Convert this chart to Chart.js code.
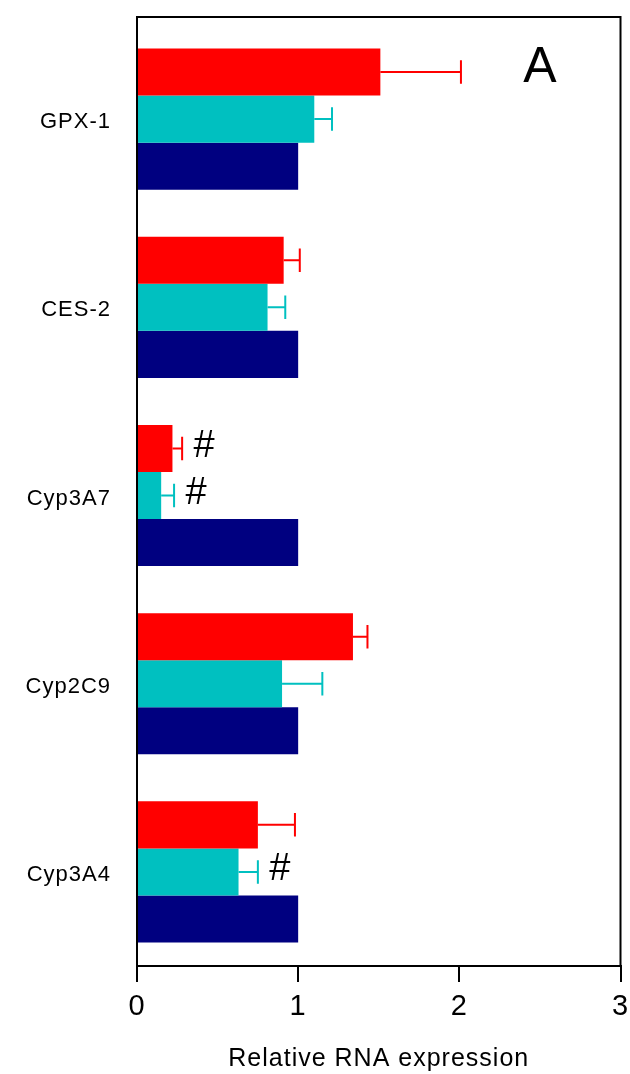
<!DOCTYPE html>
<html>
<head>
<meta charset="utf-8">
<script src="https://cdn.jsdelivr.net/npm/chart.js@4/dist/chart.umd.min.js"></script>
<style>
  body { margin: 0; background: #fff; }
  #wrap { width: 630px; height: 1074px; }
</style>
</head>
<body>
<div id="wrap"><canvas id="rnaChart" width="630" height="1074"></canvas></div>
<script>
// genes, top to bottom
const genes = ['GPX-1', 'CES-2', 'Cyp3A7', 'Cyp2C9', 'Cyp3A4'];

// red series
const redValues = [1.51, 0.91, 0.22, 1.34, 0.75];
const redErrors = [0.50, 0.10, 0.06, 0.09, 0.23];

// cyan series
const cyanValues = [1.10, 0.81, 0.15, 0.90, 0.63];
const cyanErrors = [0.11, 0.11, 0.08, 0.25, 0.12];

// navy (control) series
const navyValues = [1.0, 1.0, 1.0, 1.0, 1.0];
const navyErrors = [0, 0, 0, 0, 0];

const xTicks = [0, 1, 2, 3];

// significance marks: gene, series index, text
const marks = [
    { gene: 'Cyp3A7', series: 0, text: '#' },
    { gene: 'Cyp3A7', series: 1, text: '#' },
    { gene: 'Cyp3A4', series: 1, text: '#' }
];
const panelLabel = 'A';

const fontName = "'Liberation Sans', Arial, sans-serif";

// error bars, frame and text marks
const extrasPlugin = {
    id: 'extras',
    beforeDraw(chart) {
        // labels in the original are slightly spaced out
        chart.ctx.letterSpacing = '1px';
    },
    afterDatasetsDraw(chart) {
        const ctx = chart.ctx;
        const xs = chart.scales.x;
        const area = chart.chartArea;
        ctx.save();

        chart.data.datasets.forEach((ds, di) => {
            const meta = chart.getDatasetMeta(di);
            meta.data.forEach((bar, i) => {
                const err = ds.errors[i];
                if (!err) return;
                const x0 = xs.getPixelForValue(ds.data[i]);
                const x1 = xs.getPixelForValue(ds.data[i] + err);
                const half = bar.height / 4;
                ctx.strokeStyle = ds.backgroundColor;
                ctx.lineWidth = 2;
                ctx.beginPath();
                ctx.moveTo(x0, bar.y);
                ctx.lineTo(x1, bar.y);
                ctx.moveTo(x1, bar.y - half);
                ctx.lineTo(x1, bar.y + half);
                ctx.stroke();
            });
        });

        // # marks
        ctx.letterSpacing = '0px';
        ctx.fillStyle = '#000';
        ctx.font = '38px ' + fontName;
        ctx.textAlign = 'center';
        ctx.textBaseline = 'middle';
        marks.forEach(m => {
            const i = genes.indexOf(m.gene);
            const ds = chart.data.datasets[m.series];
            const bar = chart.getDatasetMeta(m.series).data[i];
            const x = xs.getPixelForValue(ds.data[i] + ds.errors[i]) + 22;
            ctx.fillText(m.text, x, bar.y - 2);
        });

        // panel letter
        ctx.font = '50px ' + fontName;
        ctx.fillText(panelLabel, xs.getPixelForValue(2.5), area.top + 43);

        // frame
        ctx.strokeStyle = '#000';
        ctx.lineWidth = 2;
        ctx.strokeRect(area.left, area.top - 8, area.right - area.left, area.bottom - area.top + 8);
        ctx.restore();
    }
};

const ctx = document.getElementById('rnaChart').getContext('2d');
const rnaChart = new Chart(ctx, {
    type: 'bar',
    data: {
        labels: genes,
        datasets: [
            { data: redValues, errors: redErrors, backgroundColor: '#ff0000' },
            { data: cyanValues, errors: cyanErrors, backgroundColor: '#00c0c0' },
            { data: navyValues, errors: navyErrors, backgroundColor: '#000080' }
        ]
    },
    options: {
        indexAxis: 'y',
        responsive: false,
        animation: false,
        devicePixelRatio: 1,
        layout: { padding: { left: 0, top: 25, right: 9.5, bottom: 0 } },
        datasets: {
            bar: { categoryPercentage: 0.75, barPercentage: 1.0, borderWidth: 0 }
        },
        plugins: {
            legend: { display: false },
            tooltip: { enabled: false }
        },
        scales: {
            x: {
                min: 0,
                max: 3,
                afterBuildTicks: scale => { scale.ticks = xTicks.map(v => ({ value: v })); },
                afterFit: scale => {
                    scale.height = 108;
                    scale.paddingLeft = 0;
                    scale.paddingRight = 0;
                },
                grid: { drawOnChartArea: false, drawTicks: true, tickLength: 16, color: '#000', lineWidth: 2 },
                border: { display: true, color: '#000', width: 2 },
                ticks: { color: '#000', font: { family: fontName, size: 29 }, padding: 8 },
                title: {
                    display: true,
                    text: 'Relative RNA expression',
                    color: '#000',
                    font: { family: fontName, size: 25 },
                    padding: { top: 2, bottom: 0 }
                }
            },
            y: {
                afterFit: scale => {
                    scale.width = 137;
                    scale.paddingTop = 0;
                    scale.paddingBottom = 0;
                },
                grid: { display: false },
                border: { display: true, color: '#000', width: 2 },
                ticks: { color: '#000', font: { family: fontName, size: 22 }, padding: 18, labelOffset: 3 }
            }
        }
    },
    plugins: [extrasPlugin]
});
</script>
</body>
</html>
